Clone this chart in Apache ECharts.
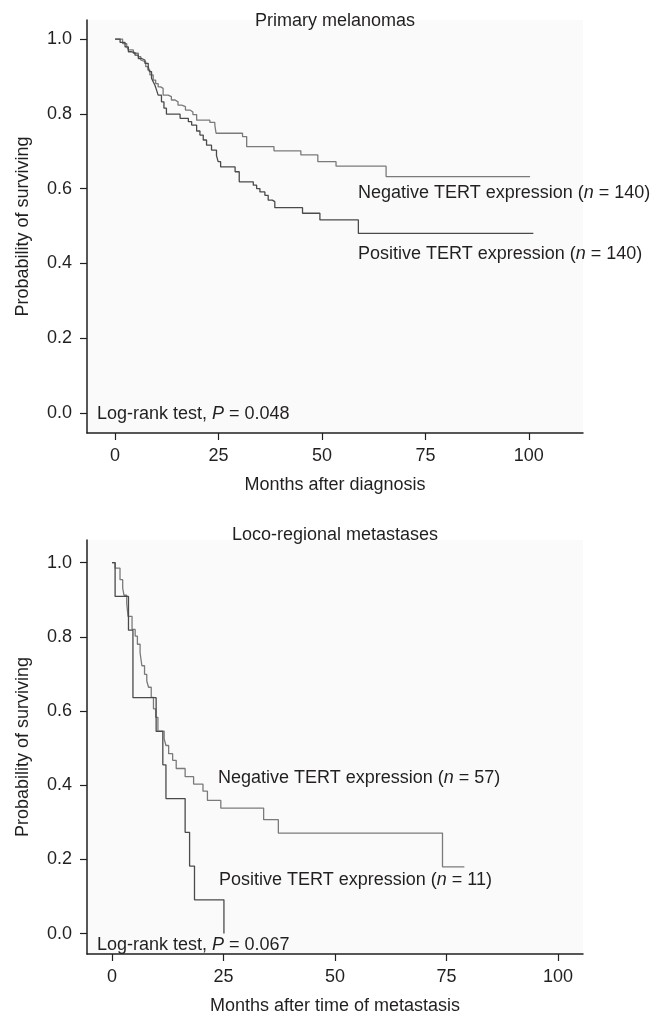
<!DOCTYPE html>
<html>
<head>
<meta charset="utf-8">
<script src="https://cdn.jsdelivr.net/npm/echarts@6/dist/echarts.min.js"></script>
<style>
  html, body { margin: 0; padding: 0; background: #fff; }
  #chart { width: 661px; height: 1016px; }
</style>
</head>
<body>
<div id="chart"></div>
<script>
const monthTicks = [0, 25, 50, 75, 100]
const probTicks = [0, 0.2, 0.4, 0.6, 0.8, 1.0]

// Kaplan-Meier steps, [month, survival after the drop]
const primaryNegative = [
  [0, 1], [1.8, 0.988], [2.8, 0.979], [3.2, 0.971], [4.4, 0.962], [5.6, 0.953],
  [6.2, 0.944], [6.6, 0.939], [7.4, 0.926], [7.9, 0.917], [8.4, 0.904], [9.2, 0.890],
  [9.8, 0.881], [10.4, 0.872], [11.0, 0.868], [11.6, 0.850], [12.8, 0.846], [13.6, 0.837],
  [14.5, 0.832], [15.2, 0.823], [16.1, 0.819], [17.0, 0.810], [18.1, 0.805], [18.8, 0.798],
  [19.7, 0.783], [22.9, 0.777], [24.1, 0.770], [24.4, 0.748], [30.8, 0.739], [31.8, 0.712],
  [38.4, 0.701], [44.9, 0.690], [49.0, 0.672], [53.4, 0.660], [65.5, 0.632], [100.3, 0.632]
]
const primaryPositive = [
  [0, 1], [1.2, 0.991], [2.4, 0.979], [3.2, 0.966], [4.0, 0.964], [4.8, 0.957],
  [5.6, 0.948], [6.4, 0.944], [7.2, 0.935], [8.0, 0.926], [8.3, 0.913], [8.8, 0.895],
  [9.2, 0.886], [9.6, 0.877], [10.0, 0.864], [10.4, 0.850], [11.2, 0.832], [11.8, 0.815],
  [12.4, 0.799], [15.7, 0.788], [17.7, 0.779], [18.5, 0.770], [19.7, 0.754], [20.5, 0.743],
  [21.3, 0.730], [22.1, 0.716], [23.3, 0.703], [24.5, 0.688], [24.9, 0.672], [25.5, 0.658],
  [29.0, 0.645], [30.0, 0.618], [33.4, 0.609], [34.2, 0.600], [35.0, 0.591], [36.2, 0.582],
  [37.0, 0.569], [38.0, 0.565], [38.6, 0.549], [45.3, 0.534], [49.5, 0.516], [58.8, 0.480],
  [101.1, 0.480]
]

const metaNegative = [
  [0, 1], [0.7, 0.985], [1.8, 0.954], [2.4, 0.931], [2.7, 0.912], [3.3, 0.891],
  [3.6, 0.855], [4.5, 0.820], [5.2, 0.802], [5.7, 0.780], [6.3, 0.757], [6.7, 0.722],
  [7.3, 0.699], [7.8, 0.681], [8.2, 0.664], [8.8, 0.637], [9.3, 0.606], [9.8, 0.583],
  [10.3, 0.546], [11.7, 0.525], [12.1, 0.507], [12.7, 0.485], [13.6, 0.467], [14.4, 0.445],
  [16.4, 0.423], [18.3, 0.403], [20.4, 0.384], [21.4, 0.359], [24.4, 0.338], [34.0, 0.307],
  [37.3, 0.271], [74.1, 0.180], [79.0, 0.180]
]
const metaPositive = [
  [0, 1], [0.7, 0.909], [3.7, 0.818], [4.7, 0.636], [9.9, 0.545], [11.4, 0.455],
  [12.1, 0.364], [16.4, 0.273], [17.4, 0.182], [18.5, 0.091], [25.1, 0]
]

const font = "'Liberation Sans', Arial, Helvetica, sans-serif"
const ink = '#231f20'

const chart = echarts.init(document.getElementById('chart'), null, { renderer: 'canvas' })

function xAxis(gridIndex, min, max, name) {
  return {
    type: 'value', gridIndex, min, max,
    name, nameLocation: 'middle', nameGap: 43,
    nameTextStyle: { fontSize: 18, fontFamily: font, color: ink },
    axisLine: { onZero: false, lineStyle: { color: ink, width: 1.5 } },
    axisTick: { customValues: monthTicks, length: 7, lineStyle: { color: ink, width: 1.2 } },
    axisLabel: { customValues: monthTicks, margin: 14, fontSize: 18, fontFamily: font, color: ink },
    splitLine: { show: false }
  }
}

function yAxis(gridIndex, min, max) {
  return {
    type: 'value', gridIndex, min, max,
    name: 'Probability of surviving', nameLocation: 'middle', nameGap: 55,
    nameTextStyle: { fontSize: 18, fontFamily: font, color: ink },
    axisLine: { onZero: false, lineStyle: { color: ink, width: 1.5 } },
    axisTick: { customValues: probTicks, length: 7, lineStyle: { color: ink, width: 1.2 } },
    axisLabel: {
      customValues: probTicks, margin: 15, fontSize: 18, fontFamily: font, color: ink,
      formatter: v => v.toFixed(1)
    },
    splitLine: { show: false }
  }
}

function km(name, data, idx, color) {
  return {
    name, type: 'line', step: 'end', data,
    xAxisIndex: idx, yAxisIndex: idx,
    showSymbol: false, symbol: 'none',
    lineStyle: { color, width: 1.3 },
    animation: false
  }
}

function label(x, y, text, align) {
  return {
    type: 'text', x, y,
    style: {
      text, fill: ink, fontSize: 18, fontFamily: font,
      align: align || 'left', verticalAlign: 'middle',
      rich: {
        i: { fontStyle: 'italic', fontSize: 18, fontFamily: font, fill: ink }
      }
    }
  }
}

const negColor = '#7a7a7a'
const posColor = '#4a4a4a'

chart.setOption({
  animation: false,
  grid: [
    { left: 87, top: 20, width: 496, height: 413, show: true, backgroundColor: '#fafafa', borderWidth: 0 },
    { left: 87, top: 540, width: 496, height: 417, show: true, backgroundColor: '#fafafa', borderWidth: 0 }
  ],
  xAxis: [
    xAxis(0, -6.8, 113.1, 'Months after diagnosis'),
    xAxis(1, -5.6, 105.6, 'Months after time of metastasis')
  ],
  yAxis: [
    yAxis(0, -0.054, 1.051),
    yAxis(1, -0.055, 1.061)
  ],
  series: [
    km('Negative TERT expression', primaryNegative, 0, negColor),
    km('Positive TERT expression', primaryPositive, 0, posColor),
    km('Negative TERT expression', metaNegative, 1, negColor),
    km('Positive TERT expression', metaPositive, 1, posColor)
  ],
  graphic: [
    label(335, 21, 'Primary melanomas', 'center'),
    label(358, 193, 'Negative TERT expression ({i|n} = 140)'),
    label(358, 254, 'Positive TERT expression ({i|n} = 140)'),
    label(97, 414, 'Log-rank test, {i|P} = 0.048'),
    label(335, 535, 'Loco-regional metastases', 'center'),
    label(218, 778, 'Negative TERT expression ({i|n} = 57)'),
    label(219, 880, 'Positive TERT expression ({i|n} = 11)'),
    label(97, 945, 'Log-rank test, {i|P} = 0.067')
  ]
})
</script>
</body>
</html>
